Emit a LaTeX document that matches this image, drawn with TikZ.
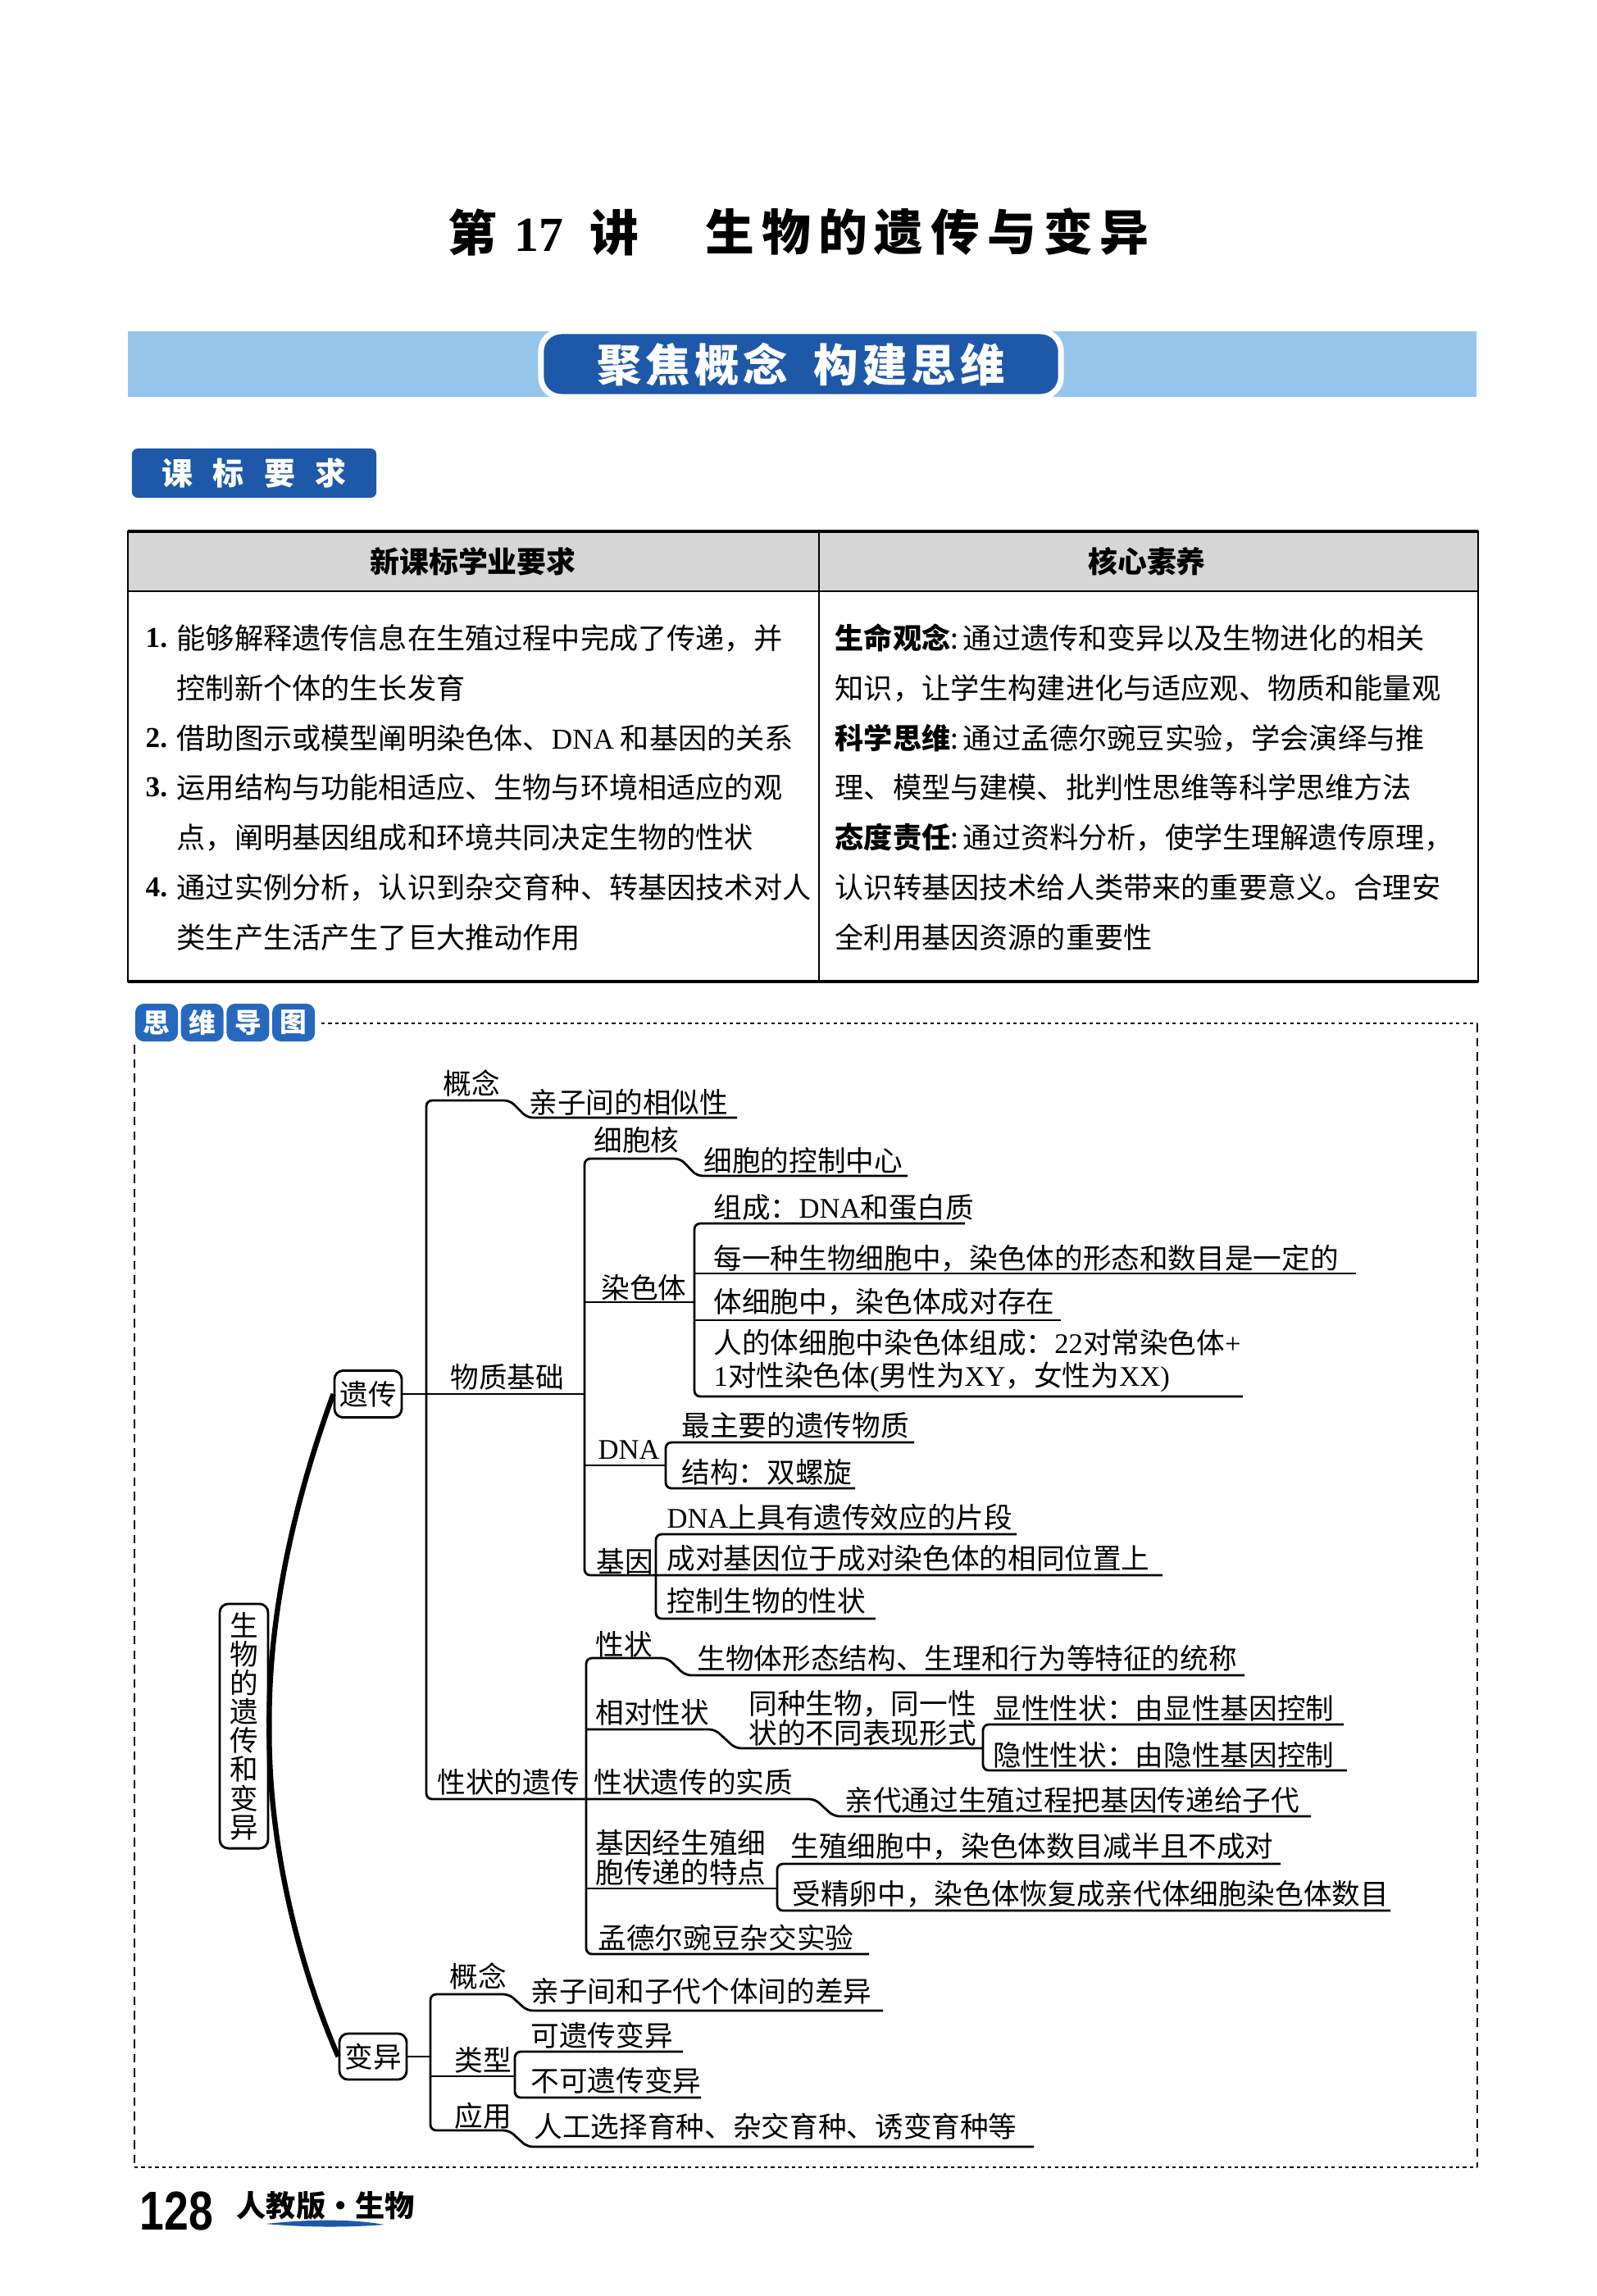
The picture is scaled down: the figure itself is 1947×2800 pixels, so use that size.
\documentclass[tikz,border=0pt]{standalone}
\usepackage{fontspec}
\setmainfont{Noto Sans CJK SC}
\newfontfamily\lat{Liberation Serif}
\newfontfamily\footfont{Liberation Sans}[FakeStretch=0.8]

\definecolor{bandblue}{RGB}{150,197,236}
\definecolor{deepblue}{RGB}{30,88,168}
\definecolor{tabblue}{RGB}{38,104,190}
\definecolor{headgray}{RGB}{214,214,214}

\tikzset{
  title/.style={anchor=west, inner sep=0pt, font=\fontsize{17pt}{20pt}\selectfont\bfseries},
  row/.style={anchor=west, inner sep=0pt, font=\fontsize{10pt}{12pt}\selectfont},
  mm/.style={anchor=west, inner sep=0pt, font=\fontsize{9.85pt}{10.25pt}\selectfont},
  mmbox/.style={draw, line width=0.8pt, rounded corners=3pt, inner sep=0pt,
    font=\fontsize{9.85pt}{10pt}\selectfont},
  tree/.style={line width=0.8pt, rounded corners=2pt},
}

\begin{document}
\begin{tikzpicture}[x=0.01cm, y=-0.01cm]
    \useasboundingbox (0,0) rectangle (1947,2800);
    \fill[white] (0,0) rectangle (1947,2800);

    % title
    \node[title] (lect) at (546,283) {第\hspace{6pt}{\lat 17}\hspace{9pt}讲};
    \node[title] (topic) at (860,283) {\addfontfeature{LetterSpace=15}生物的遗传与变异};

    % banner
    \fill[bandblue] (156,404) rectangle (1801,484);
    \node[draw=white, line width=2pt, fill=deepblue, rounded corners=7pt, minimum width=6.34cm,
      minimum height=0.8cm, text=white, font=\fontsize{15.5pt}{18pt}\selectfont\bfseries]
      (focus) at (977,444) {\addfontfeature{LetterSpace=9}聚焦概念\hspace{9pt}构建思维};

    % curriculum tab
    \node[fill=deepblue, rounded corners=2pt, minimum width=2.98cm, minimum height=0.6cm,
      text=white, font=\fontsize{10.8pt}{12pt}\selectfont\bfseries]
      (kbyq) at (310,577) {课\hspace{7pt}标\hspace{7pt}要\hspace{7pt}求};

    % table
    \fill[headgray] (156,648) rectangle (1803,721);
    \draw[line width=0.6pt] (156,648) rectangle (1803,1197);
    \draw[line width=1.4pt] (156,648) -- (1803,648);
    \draw[line width=1.4pt] (156,1197) -- (1803,1197);
    \draw[line width=0.6pt] (156,721) -- (1803,721);
    \draw[line width=0.5pt] (999,648) -- (999,1197);
    \node[font=\fontsize{10.2pt}{12pt}\selectfont\bfseries] (hleft) at (577,685) {新课标学业要求};
    \node[font=\fontsize{10.2pt}{12pt}\selectfont\bfseries] (hright) at (1399,685) {核心素养};

    \node[row] (n1) at (177,778) {{\lat\bfseries 1.}};
    \node[row] (l1) at (215,778) {能够解释遗传信息在生殖过程中完成了传递，并};
    \node[row] (l2) at (215,839) {控制新个体的生长发育};
    \node[row] (n2) at (177,900) {{\lat\bfseries 2.}};
    \node[row] (l3) at (215,900) {借助图示或模型阐明染色体、{\lat DNA} 和基因的关系};
    \node[row] (n3) at (177,960) {{\lat\bfseries 3.}};
    \node[row] (l4) at (215,960) {运用结构与功能相适应、生物与环境相适应的观};
    \node[row] (l5) at (215,1021) {点，阐明基因组成和环境共同决定生物的性状};
    \node[row] (n4) at (177,1082) {{\lat\bfseries 4.}};
    \node[row] (l6) at (215,1082) {通过实例分析，认识到杂交育种、转基因技术对人};
    \node[row] (l7) at (215,1143) {类生产生活产生了巨大推动作用};

    \node[row] (r1) at (1018,778) {\textbf{生命观念}:\,通过遗传和变异以及生物进化的相关};
    \node[row] (r2) at (1018,839) {知识，让学生构建进化与适应观、物质和能量观};
    \node[row] (r3) at (1018,900) {\textbf{科学思维}:\,通过孟德尔豌豆实验，学会演绎与推};
    \node[row] (r4) at (1018,960) {理、模型与建模、批判性思维等科学思维方法};
    \node[row] (r5) at (1018,1021) {\textbf{态度责任}:\,通过资料分析，使学生理解遗传原理，};
    \node[row] (r6) at (1018,1082) {认识转基因技术给人类带来的重要意义。合理安};
    \node[row] (r7) at (1018,1143) {全利用基因资源的重要性};

    % mind map tab and frame
    \foreach \ch [count=\i from 0] in {思,维,导,图}
      \node[fill=tabblue, rounded corners=3pt, minimum width=0.52cm, minimum height=0.46cm,
        inner sep=0pt, text=white, font=\fontsize{9.3pt}{10pt}\selectfont\bfseries]
        (tab\i) at (191+55.7*\i,1247) {\ch};
    \draw[line width=0.5pt, dash pattern=on 1.2pt off 1.2pt] (392,1248) -- (1802,1248);
    \draw[line width=0.5pt, dash pattern=on 1.2pt off 1.2pt] (164,2643) -- (1802,2643);
    \draw[line width=0.5pt, dash pattern=on 3pt off 2pt] (1802,1248) -- (1802,2643);
    \draw[line width=0.5pt, dash pattern=on 3pt off 2pt] (164,1274) -- (164,2643);

    % mind map boxes
    \node[mmbox, minimum width=0.59cm, minimum height=2.98cm, align=center]
      (root) at (297.5,2105) {生\\物\\的\\遗\\传\\和\\变\\异};
    \node[mmbox, minimum width=0.82cm, minimum height=0.57cm] (heredity) at (449,1700) {遗传};
    \node[mmbox, minimum width=0.82cm, minimum height=0.56cm] (variation) at (455,2508) {变异};
    \draw[line width=1.8pt] (heredity.west) .. controls (370,1800) and (327,1950) .. (root.east)
      .. controls (327,2260) and (370,2410) .. (variation.west);

    % heredity: labels
    \node[mm] (gn1) at (540,1321) {概念};
    \node[mm] (similar) at (645,1344) {亲子间的相似性};
    \node[mm] (basis) at (549,1679) {物质基础};
    \node[mm] (nucleus) at (724,1390) {细胞核};
    \node[mm] (control) at (858,1415) {细胞的控制中心};
    \node[mm] (chromo) at (733,1570) {染色体};
    \node[mm] (comp) at (870,1472) {组成：{\lat DNA}和蛋白质};
    \node[mm] (fixed) at (870,1535) {每一种生物细胞中，染色体的形态和数目是一定的};
    \node[mm] (pairs) at (870,1588) {体细胞中，染色体成对存在};
    \node[mm, align=left, font=\fontsize{9.85pt}{11.4pt}\selectfont] (human) at (870,1660)
      {人的体细胞中染色体组成：{\lat 22}对常染色体{\lat +}\\{\lat 1}对性染色体{\lat (}男性为{\lat XY}，女性为{\lat XX)}};
    \node[mm] (dna) at (729,1768) {\lat DNA};
    \node[mm] (main) at (831,1738) {最主要的遗传物质};
    \node[mm] (helix) at (831,1795) {结构：双螺旋};
    \node[mm] (gene) at (727,1904) {基因};
    \node[mm] (segment) at (813,1850) {{\lat DNA}上具有遗传效应的片段};
    \node[mm] (locus) at (813,1900) {成对基因位于成对染色体的相同位置上};
    \node[mm] (trait) at (813,1952) {控制生物的性状};
    \node[mm] (inherit) at (533,2173) {性状的遗传};
    \node[mm] (xz) at (726,2005) {性状};
    \node[mm] (xzdef) at (850,2022) {生物体形态结构、生理和行为等特征的统称};
    \node[mm] (rel) at (726,2088) {相对性状};
    \node[mm, align=left] (reldef) at (913,2095) {同种生物，同一性\\状的不同表现形式};
    \node[mm] (dom) at (1211,2083) {显性性状：由显性基因控制};
    \node[mm] (rec) at (1211,2140) {隐性性状：由隐性基因控制};
    \node[mm] (essence) at (724,2173) {性状遗传的实质};
    \node[mm] (pass) at (1030,2195) {亲代通过生殖过程把基因传递给子代};
    \node[mm, align=left] (germ) at (726,2265) {基因经生殖细\\胞传递的特点};
    \node[mm] (half) at (964,2252) {生殖细胞中，染色体数目减半且不成对};
    \node[mm] (zygote) at (966,2310) {受精卵中，染色体恢复成亲代体细胞染色体数目};
    \node[mm] (mendel) at (729,2363) {孟德尔豌豆杂交实验};

    % heredity: lines
    \draw[tree] (heredity.east) -- (713,1700);
    \draw[tree] (899,1363) -- (643,1363) -- (622,1342) -- (520,1342) -- (520,2194)
      -- (994,2194) -- (1017,2215) -- (1599,2215);
    \draw[tree] (1107,1434) -- (850,1434) -- (830,1413) -- (713,1413) -- (713,1921) -- (1418,1921);
    \draw[tree] (713,1588) -- (847,1588);
    \draw[tree] (1177,1492) -- (847,1492) -- (847,1703) -- (1516,1703);
    \draw[tree] (847,1553) -- (1654,1553);
    \draw[tree] (847,1610) -- (1294,1610);
    \draw[tree] (713,1787) -- (812,1787);
    \draw[tree] (1115,1759) -- (812,1759) -- (812,1815) -- (1043,1815);
    \draw[tree] (1240,1871) -- (800,1871) -- (800,1974) -- (1068,1974);
    \draw[tree] (1518,2043) -- (836,2043) -- (814,2022) -- (715,2022) -- (715,2383) -- (1060,2383);
    \draw[tree] (715,2109) -- (872,2109) -- (897,2132) -- (1199,2132);
    \draw[tree] (1639,2103) -- (1199,2103) -- (1199,2159) -- (1643,2159);
    \draw[tree] (715,2303) -- (948,2303);
    \draw[tree] (1562,2273) -- (948,2273) -- (948,2330) -- (1696,2330);

    % variation
    \node[mm] (gn2) at (548,2410) {概念};
    \node[mm] (differ) at (647,2428) {亲子间和子代个体间的差异};
    \node[mm] (kind) at (554,2512) {类型};
    \node[mm] (heritable) at (647,2482) {可遗传变异};
    \node[mm] (nonheritable) at (647,2537) {不可遗传变异};
    \node[mm] (use) at (554,2580) {应用};
    \node[mm] (breed) at (651,2593) {人工选择育种、杂交育种、诱变育种等};
    \draw[tree] (variation.east) -- (525,2508);
    \draw[tree] (1077,2452) -- (643,2452) -- (621,2432) -- (525,2432) -- (525,2598)
      -- (621,2598) -- (643,2618) -- (1261,2618);
    \draw[tree] (525,2532) -- (628,2532);
    \draw[tree] (833,2502) -- (628,2502) -- (628,2558) -- (855,2558);

    % footer
    \node[anchor=west, inner sep=0pt, font=\fontsize{19pt}{20pt}\selectfont\footfont\bfseries]
      (page) at (170,2696) {128};
    \node[anchor=west, inner sep=0pt, font=\fontsize{10.3pt}{12pt}\selectfont\bfseries]
      (book) at (288,2690) {人教版・生物};
    \fill[deepblue] (324,2712) .. controls (380,2706) and (430,2706) .. (469,2713)
      .. controls (430,2716) and (380,2717) .. (324,2712);
\end{tikzpicture}
\end{document}
